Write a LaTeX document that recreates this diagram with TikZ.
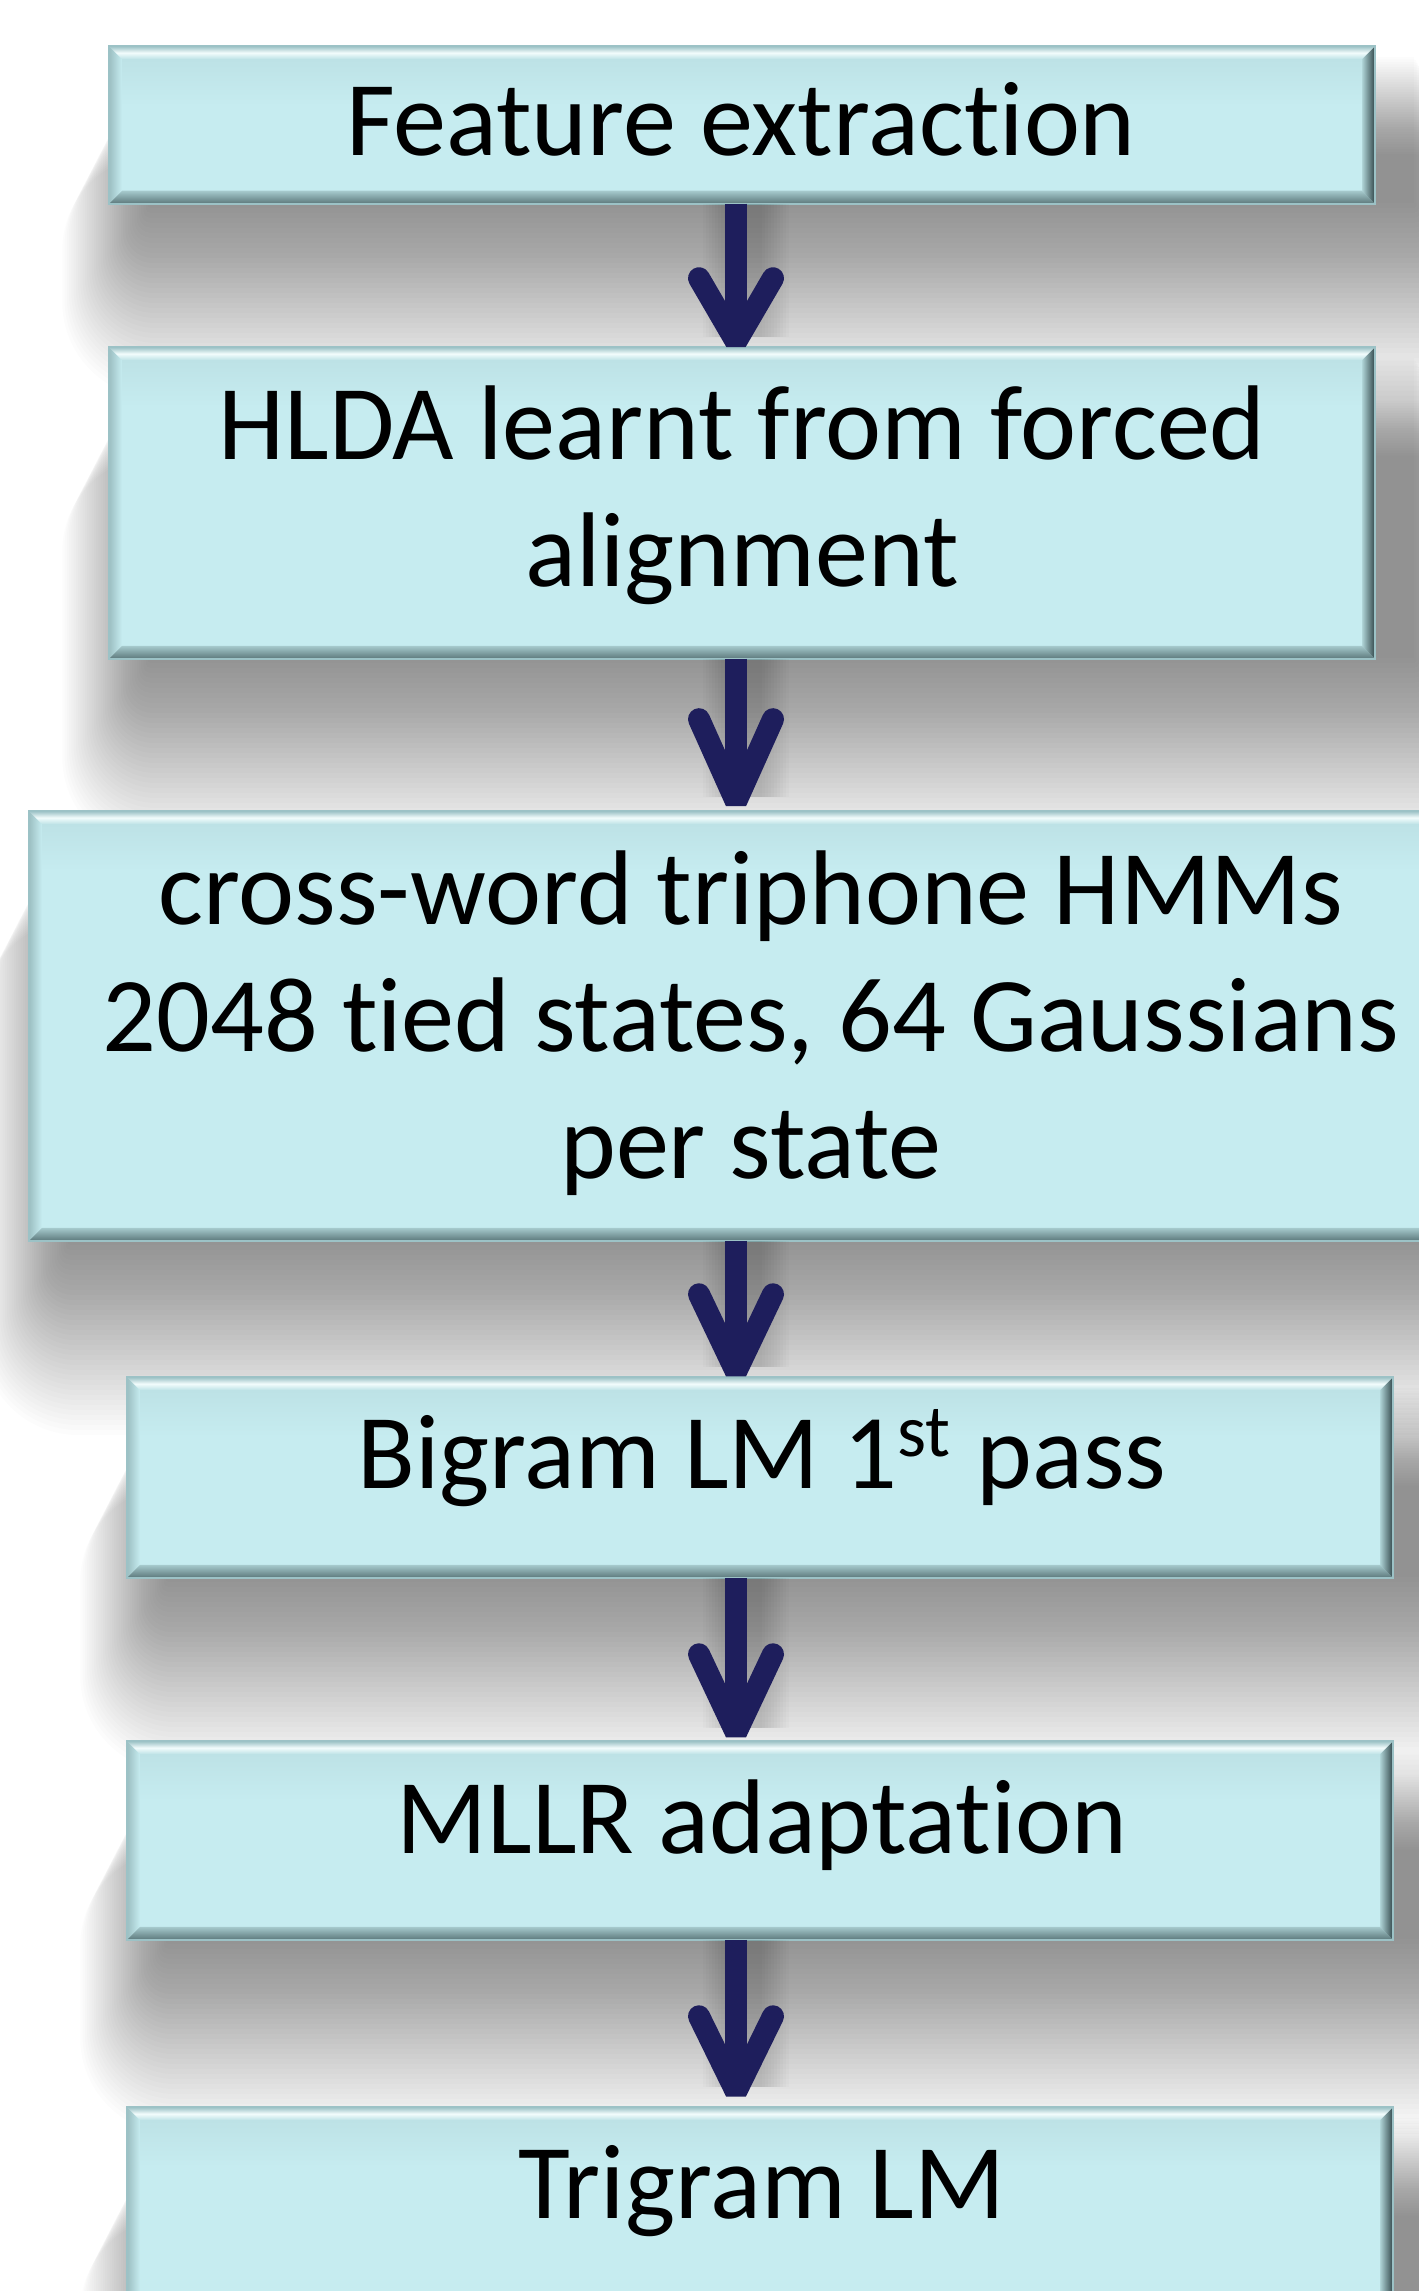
\documentclass[tikz,border=0pt]{standalone}
\usepackage{fontspec}
\setmainfont{Carlito}[Ligatures=NoCommon]
\usetikzlibrary{calc}

\definecolor{boxfill}{HTML}{C6ECF0}
\definecolor{boxfilltop}{HTML}{BDE2E6}
\definecolor{bevhi}{HTML}{F2FCFC}
\definecolor{bevedge}{HTML}{9CC2C6}
\definecolor{bevbotin}{HTML}{A6CACD}
\definecolor{bevbotout}{HTML}{5C787B}
\definecolor{bevrin}{HTML}{AED3D6}
\definecolor{bevrout}{HTML}{32474A}
\definecolor{bevlout}{HTML}{9BBEC1}
\definecolor{arrowc}{HTML}{1E1E5C}

\tikzset{
  stagebox/.style={rectangle, inner sep=0pt, fill=boxfill},
  stagetext/.style={anchor=base, align=center, inner sep=0pt, text=black,
    font=\fontsize{30.2}{36}\selectfont},
  shaft/.style={draw=arrowc, line width=0.22cm},
  chevron/.style={draw=arrowc, line width=0.22cm, line cap=round, line join=bevel},
}

\begin{document}
\begin{tikzpicture}[x=0.01cm,y=-0.01cm]
  \clip (0,0) rectangle (1419,2291);
  \fill[white] (0,0) rectangle (1419,2291);

  % soft drop shadows: stacked translucent rectangles whose core hides
  % under the box and which spread downwards and to the right
  \foreach \cx/\cy/\w/\h in {742/125/1264/156, 742/503/1264/310, 751/1026/1442/428,
                             760/1477.5/1264/199, 760/1840.5/1264/197, 760/2206.5/1264/197} {
    \foreach \k in {0,...,39} {
      \pgfmathsetmacro{\sr}{5*\k}
      \fill[black, opacity=0.0105, rounded corners=\sr*0.14pt]
        (\cx-\w/2+40-0.45*\sr, \cy-\h/2+10+0.5*\sr) rectangle (\cx+\w/2+40+0.5*\sr, \cy+\h/2+\sr);
    }
  }

  % processing stages
  \node[stagebox, minimum width=12.64cm, minimum height=1.56cm] (b1) at (742,125) {};
  \node[stagebox, minimum width=12.64cm, minimum height=3.10cm] (b2) at (742,503) {};
  \node[stagebox, minimum width=14.42cm, minimum height=4.28cm] (b3) at (751,1026) {};
  \node[stagebox, minimum width=12.64cm, minimum height=1.99cm] (b4) at (760,1477.5) {};
  \node[stagebox, minimum width=12.64cm, minimum height=1.97cm] (b5) at (760,1840.5) {};
  \node[stagebox, minimum width=12.64cm, minimum height=1.97cm] (b6) at (760,2206.5) {};

  % bevelled edges of every stage box
  \foreach \b in {b1,b2,b3,b4,b5,b6} {
    \coordinate (A) at (\b.north west);
    \coordinate (B) at (\b.north east);
    \coordinate (C) at (\b.south east);
    \coordinate (D) at (\b.south west);
    \shade[top color=boxfilltop, bottom color=boxfill]
      ($(A)+(13,13)$) rectangle ($(B)+(-13,60)$);
    \shade[top color=bevedge, bottom color=boxfilltop, middle color=bevhi]
      (A) -- (B) -- ($(B)+(-13,13)$) -- ($(A)+(13,13)$) -- cycle;
    \shade[top color=bevbotin, bottom color=bevbotout]
      (D) -- (C) -- ($(C)+(-13,-13)$) -- ($(D)+(13,-13)$) -- cycle;
    \shade[left color=bevrin, right color=bevrout]
      (B) -- (C) -- ($(C)+(-13,-13)$) -- ($(B)+(-13,13)$) -- cycle;
    \shade[left color=bevlout, right color=boxfill]
      (A) -- (D) -- ($(D)+(13,-13)$) -- ($(A)+(13,13)$) -- cycle;
    \draw[bevedge, line width=0.5pt] (A) rectangle (C);
  }

  % stage labels (anchored on the baseline of the last line)
  \node[stagetext] (t1) at (741,156) {Feature extraction};
  \node[stagetext] (t2) at (742,586) {HLDA learnt from forced\\alignment};
  \node[stagetext] (t3) at (751,1178) {cross-word triphone HMMs\\2048 tied states, 64 Gaussians\\per state};
  \node[stagetext] (t4) at (762,1488) {Bigram LM 1\textsuperscript{st} pass};
  \node[stagetext] (t5) at (762,1853) {MLLR adaptation};
  \node[stagetext] (t6) at (762,2218) {Trigram LM};

  % arrows between consecutive stages
  \coordinate (ax) at (736,0);
  \foreach \s/\t/\g/\h in {b1/b2/0/80, b2/b3/4/99, b3/b4/0/94, b4/b5/3/95, b5/b6/10/92} {
    \coordinate (tip) at ($(\t.north -| ax)+(0,-\g)$);
    \foreach \k in {0,...,9} {
      \pgfmathsetmacro{\sr}{3*\k}
      \fill[black, opacity=0.015]
        ($(\s.south -| ax)+(-6-\sr,0)$) rectangle ($(tip)+(26+\sr,-10)$);
    }
    \draw[shaft] (\s.south -| ax) -- ($(tip)+(0,-20)$);
    \draw[chevron] ($(tip)+(-37,-\h+11)$) -- ($(tip)+(0,-5.5)$) -- ($(tip)+(37,-\h+11)$);
  }
\end{tikzpicture}
\end{document}
